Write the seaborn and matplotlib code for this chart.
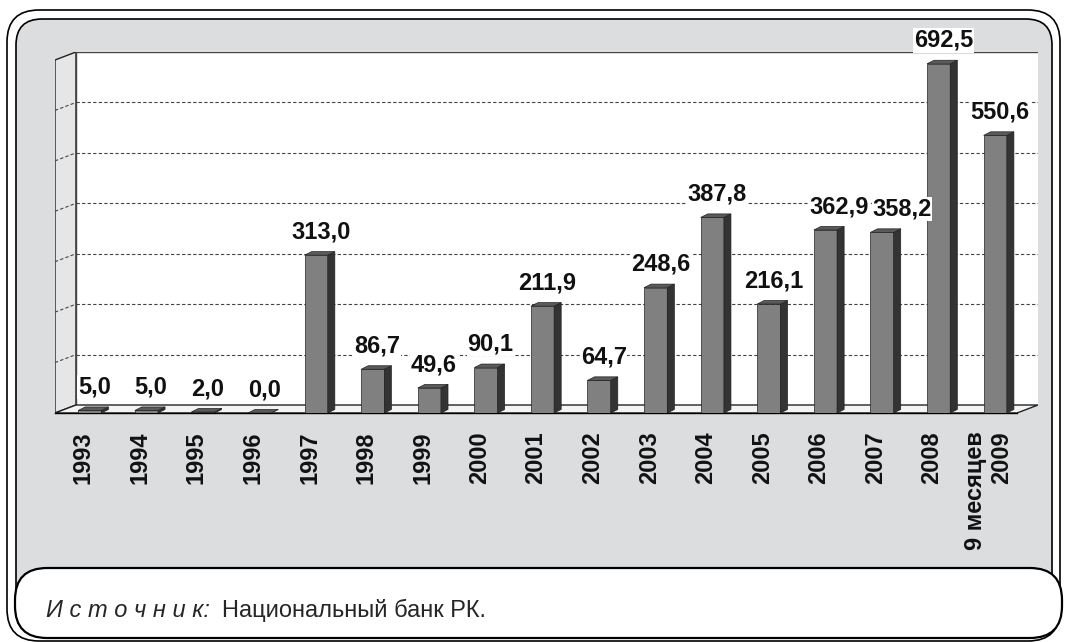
import numpy as np
import pandas as pd
import matplotlib
matplotlib.use('Agg')
import matplotlib.pyplot as plt
from matplotlib.patches import Polygon, Rectangle, FancyBboxPatch
import seaborn as sns

# data
years = ['1993', '1994', '1995', '1996', '1997', '1998', '1999', '2000', '2001',
         '2002', '2003', '2004', '2005', '2006', '2007', '2008', '9 месяцев\n2009']
values = [5.0, 5.0, 2.0, 0.0, 313.0, 86.7, 49.6, 90.1, 211.9,
          64.7, 248.6, 387.8, 216.1, 362.9, 358.2, 692.5, 550.6]
grid_levels = [100, 200, 300, 400, 500, 600]
y_max = 700
source_label = 'И с т о ч н и к:'
source_text = 'Национальный банк РК.'

# pseudo-3d depth of the walls / bars, in data units
DX, DY = 0.371, 15.86
BDX, BDY = 0.125, 7.0
BAR_SHIFT = 0.115
# labels that sit a little to the right in the original so they don't collide
label_nudge = {'2006': 0.15, '2007': 0.27}

BG_GRAY = '#dcdddf'
FRONT = '#808080'
SIDE = '#333333'
TOP = '#5a5a5a'

sns.set_style('white')
plt.rcParams['font.family'] = ['Liberation Sans', 'DejaVu Sans']

fig = plt.figure(figsize=(10.66, 6.42), dpi=100)
fig.patch.set_facecolor('white')

# frame in pixel coordinates
bg = fig.add_axes([0, 0, 1, 1], zorder=-1)
bg.set_xlim(0, 1066)
bg.set_ylim(642, 0)
bg.axis('off')
bg.add_patch(FancyBboxPatch((7, 10), 1053, 631, boxstyle='round,pad=0,rounding_size=32',
                            facecolor='white', edgecolor='black', lw=1.2))
bg.add_patch(FancyBboxPatch((16, 19), 1036, 615, boxstyle='round,pad=0,rounding_size=26',
                            facecolor=BG_GRAY, edgecolor='black', lw=1.2))
bg.add_patch(FancyBboxPatch((15, 568), 1047, 70, boxstyle='round,pad=0,rounding_size=32',
                            facecolor='white', edgecolor='black', lw=1.6))
src = bg.text(46, 617, source_label, fontsize=17, style='italic', va='baseline', ha='left')
bg.annotate(source_text, xy=(1, 0), xycoords=src, xytext=(9, 0), textcoords='offset points',
            fontsize=17, va='bottom', ha='left')

# chart area: front plane + depth
ax = fig.add_axes([55 / 1066, (642 - 413) / 642, (1038 - 55) / 1066, (413 - 52) / 642])
ax.set_facecolor('none')

df = pd.DataFrame({'year': years, 'value': values})
sns.barplot(data=df, x='year', y='value', order=years, color=FRONT, saturation=1,
            width=0.41, edgecolor='#222222', linewidth=0.5, ax=ax, zorder=3)

n = len(years)
x0w, x1w = -0.5, n - 0.5

# left wall
ax.add_patch(Polygon([(x0w, 0), (x0w + DX, DY), (x0w + DX, y_max + DY), (x0w, y_max)],
                     closed=True, facecolor='#e6e6e6', edgecolor='#222222', lw=1, zorder=0))
# back wall
ax.add_patch(Rectangle((x0w + DX, DY), n, y_max, facecolor='white', edgecolor='none', zorder=0))
ax.plot([x0w + DX, x0w + DX, x1w + DX], [DY, y_max + DY, y_max + DY], color='#444444', lw=1, zorder=1)
# floor
ax.add_patch(Polygon([(x0w, 0), (x1w, 0), (x1w + DX, DY), (x0w + DX, DY)],
                     closed=True, facecolor='#f4f4f4', edgecolor='#222222', lw=1, zorder=1))

for lvl in grid_levels:
    ax.plot([x0w + DX, x1w + DX], [lvl + DY, lvl + DY], color='#444444', lw=0.8,
            ls=(0, (3, 2)), zorder=1)
    ax.plot([x0w, x0w + DX], [lvl, lvl + DY], color='#444444', lw=0.8,
            ls=(0, (3, 2)), zorder=1)

# 3d faces for the bars
for patch, yr, v in zip(ax.patches[:n], years, values):
    patch.set_x(patch.get_x() + BAR_SHIFT)
    bx0 = patch.get_x()
    bx1 = bx0 + patch.get_width()
    h = patch.get_height()
    ax.add_patch(Polygon([(bx1, 0), (bx1 + BDX, BDY), (bx1 + BDX, h + BDY), (bx1, h)],
                         closed=True, facecolor=SIDE, edgecolor='#222222', lw=0.5, zorder=3))
    ax.add_patch(Polygon([(bx0, h), (bx0 + BDX, h + BDY), (bx1 + BDX, h + BDY), (bx1, h)],
                         closed=True, facecolor=TOP, edgecolor='#222222', lw=0.5, zorder=3))
    lx = (bx0 + bx1 + BDX) / 2 + 0.02 + label_nudge.get(yr, 0)
    ax.annotate(f'{v:.1f}'.replace('.', ','), xy=(lx, h + BDY),
                xytext=(0, 6), textcoords='offset points', ha='center', va='bottom',
                fontsize=17, fontweight='bold', color='#111111', zorder=5,
                annotation_clip=False,
                bbox=dict(facecolor='white', edgecolor='none', pad=0.5))

ax.set_xlim(x0w, x1w + DX)
ax.set_ylim(0, y_max + DY)
ax.set_xlabel('')
ax.set_ylabel('')
ax.set_yticks([])
ax.set_xticks(range(n))
ax.set_xticklabels(years, rotation=90, fontsize=17, fontweight='bold', color='#111111')
for lab in ax.get_xticklabels():
    lab.set_multialignment('right')
ax.set_xticks(np.arange(-0.5, n, 1), minor=True)
ax.tick_params(axis='x', which='major', length=0, pad=13)
ax.tick_params(axis='x', which='minor', length=6.5, width=1, color='black', direction='out')
for side in ['top', 'right', 'left']:
    ax.spines[side].set_visible(False)
ax.spines['bottom'].set_bounds(x0w, x1w)
ax.spines['bottom'].set_color('black')
ax.spines['bottom'].set_linewidth(1)

fig.savefig('out.png', dpi=100)
